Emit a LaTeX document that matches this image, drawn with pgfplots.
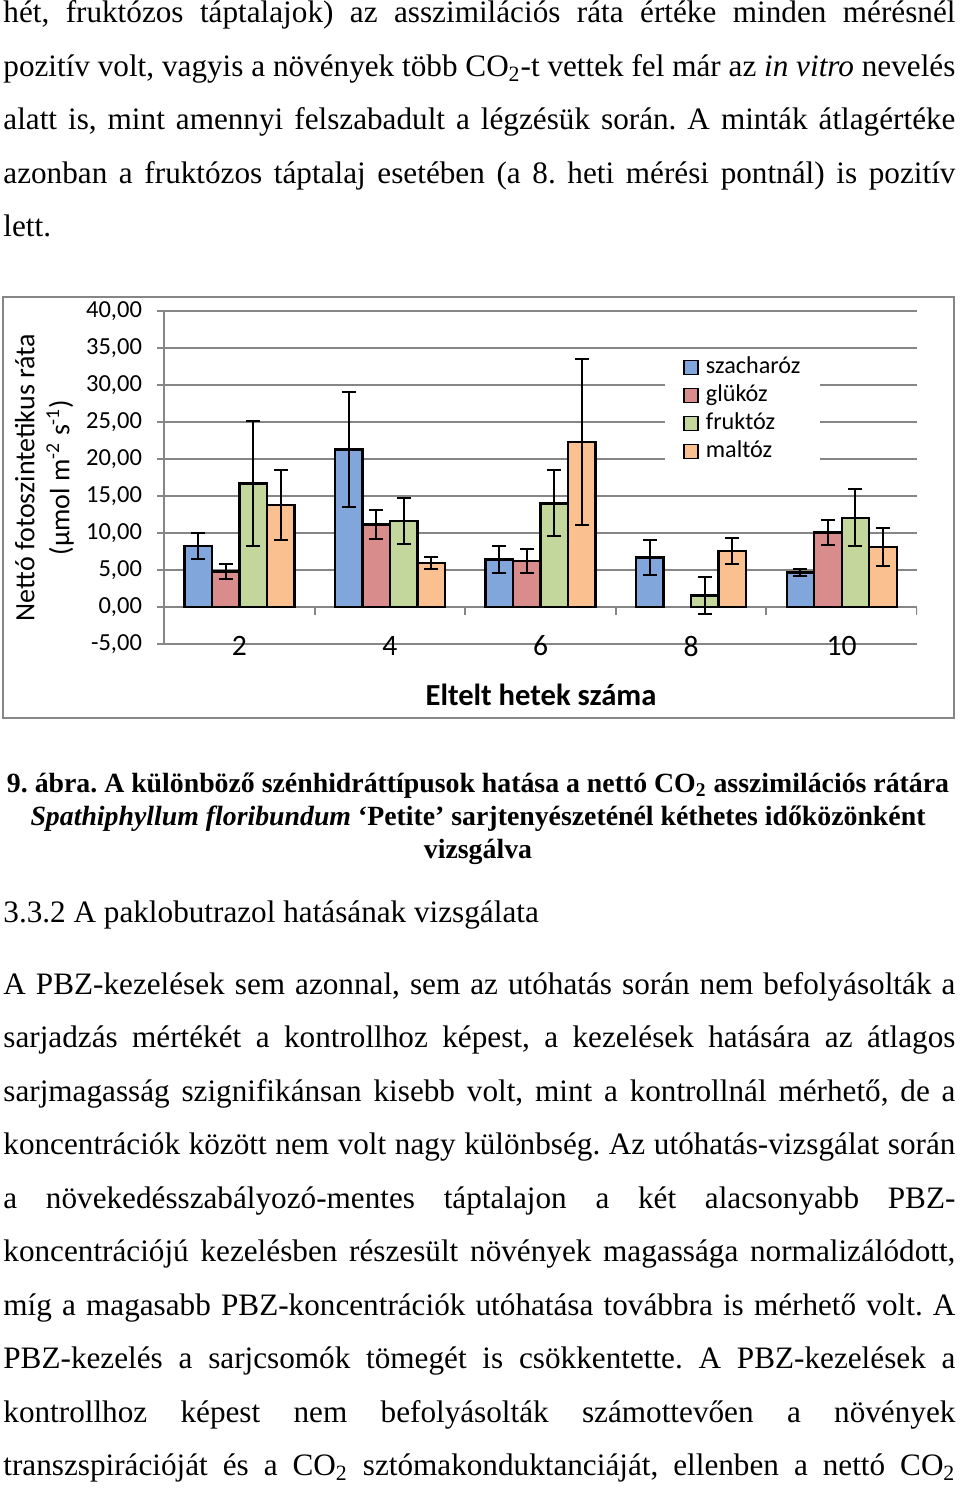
\documentclass[border=0pt]{standalone}
\usepackage{fontspec}
\setmainfont{Liberation Serif}
\newfontfamily\chartfont{Carlito}
\usepackage{pgfplots}
\pgfplotsset{compat=1.18}
\frenchspacing
\definecolor{gridgray}{RGB}{134,134,134}
\definecolor{cblue}{RGB}{128,166,220}
\definecolor{cred}{RGB}{217,140,140}
\definecolor{cgreen}{RGB}{195,214,155}
\definecolor{corange}{RGB}{250,192,144}
\newcommand\bodyfont{\fontsize{15.6}{18}\selectfont}
\newcommand\capfont{\fontsize{13.9}{16}\selectfont}
\newcommand\jline[2]{\node[anchor=base west, inner sep=0pt] at (1.5pt,-#1pt) {\bodyfont\makebox[476pt][s]{#2}};}
\newcommand\lline[2]{\node[anchor=base west, inner sep=0pt] at (1.5pt,-#1pt) {\bodyfont #2};}
\newcommand\capline[2]{\node[anchor=base, inner sep=0pt] at (239pt,-#1pt) {\capfont\bfseries #2};}
\begin{document}
\begin{tikzpicture}
\path[use as bounding box] (0,0) rectangle (480pt,-745.5pt);
% first paragraph
\jline{11.5}{hét, fruktózos táptalajok) az asszimilációs ráta értéke minden mérésnél}
\jline{38.25}{pozitív volt, vagyis a növények több CO\textsubscript{2}-t vettek fel már az \textit{in vitro} nevelés}
\jline{65}{alatt is, mint amennyi felszabadult a légzésük során. A minták átlagértéke}
\jline{91.75}{azonban a fruktózos táptalaj esetében (a 8. heti mérési pontnál) is pozitív}
\lline{118.5}{lett.}
% chart frame
\draw[gridgray, line width=0.75pt] (1.5pt,-148.5pt) rectangle (477pt,-359pt);
\begin{axis}[
  at={(82pt,-322pt)}, anchor=south west,
  scale only axis, width=376.5pt, height=166.5pt,
  xmin=1, xmax=11, ymin=-5, ymax=40, enlargelimits=false,
  ybar=0pt, bar width=13.75pt,
  axis lines*=left,
  x axis line style={draw=none},
  y axis line style={-, draw=gridgray, line width=1pt},
  ytick={-5,0,5,10,15,20,25,30,35,40},
  xtick={2,4,6,8,10},
  tick align=outside, major tick length=3.5pt,
  xtick style={draw=none},
  ytick style={draw=gridgray, line width=1pt},
  ymajorgrids, grid style={draw=gridgray, line width=1pt},
  yticklabel style={font=\chartfont\fontsize{12.25}{14}\selectfont, xshift=-4pt,
    /pgf/number format/fixed, /pgf/number format/fixed zerofill,
    /pgf/number format/precision=2, /pgf/number format/use comma,
    /pgf/number format/assume math mode=true},
  xticklabel style={font=\chartfont\fontsize{14.8}{16}\selectfont, anchor=center, yshift=2.5pt,
    /pgf/number format/assume math mode=true},
  ylabel={Nettó fotoszintetikus ráta\\(µmol m\textsuperscript{-2} s\textsuperscript{-1})},
  ylabel style={at={(axis description cs:-0.1587,0.5)}, anchor=center, align=center,
    font=\chartfont\fontsize{14}{17.5}\selectfont},
  xlabel={Eltelt hetek száma},
  xlabel style={at={(axis description cs:0.5007,-0.153)}, anchor=center,
    font=\chartfont\bfseries\fontsize{15.3}{18}\selectfont},
  legend cell align=left,
  legend style={at={(axis description cs:0.6653,0.880)}, anchor=north west,
    fill=white, draw=none, inner xsep=9pt, inner ysep=1pt, row sep=0pt,
    font=\chartfont\fontsize{12.1}{14}\selectfont,
    nodes={inner sep=1pt, text height=9pt, text depth=3pt},
    /tikz/every odd column/.append style={column sep=2.5pt}},
  legend image code/.code={\draw[#1, line width=0.75pt] (0pt,-3.5pt) rectangle (7pt,3.5pt);},
  every axis plot/.append style={draw=black, line width=1.2pt,
    /pgfplots/error bars/y dir=both, /pgfplots/error bars/y explicit,
    /pgfplots/error bars/error bar style={black, line width=1pt},
    /pgfplots/error bars/error mark options={rotate=90, black, mark size=3.5pt, line width=1pt}},
]
\addplot[fill=cblue] coordinates {(2,8.25) +- (0,1.75) (4,21.3) +- (0,7.75) (6,6.4) +- (0,1.8) (8,6.7) +- (0,2.35) (10,4.65) +- (0,0.45)};
\addplot[fill=cred] coordinates {(2,4.8) +- (0,0.95) (4,11.15) +- (0,2.0) (6,6.2) +- (0,1.6) (10,10.05) +- (0,1.65)};
\addplot[fill=cgreen] coordinates {(2,16.7) +- (0,8.45) (4,11.6) +- (0,3.15) (6,14.0) +- (0,4.45) (8,1.58) +- (0,2.5) (10,12.05) +- (0,3.85)};
\addplot[fill=corange] coordinates {(2,13.8) +- (0,4.7) (4,5.95) +- (0,0.85) (6,22.3) +- (0,11.2) (8,7.58) +- (0,1.8) (10,8.12) +- (0,2.6)};
\legend{szacharóz, glükóz, fruktóz, maltóz}
\draw[gridgray, line width=1pt] (axis cs:3,0) -- ([yshift=-4pt]axis cs:3,0);
\draw[gridgray, line width=1pt] (axis cs:5,0) -- ([yshift=-4pt]axis cs:5,0);
\draw[gridgray, line width=1pt] (axis cs:7,0) -- ([yshift=-4pt]axis cs:7,0);
\draw[gridgray, line width=1pt] (axis cs:9,0) -- ([yshift=-4pt]axis cs:9,0);
\draw[gridgray, line width=1pt] (axis cs:11,0) -- ([yshift=-4pt]axis cs:11,0);
\end{axis}
% caption
\capline{396}{9. ábra. A különböző szénhidráttípusok hatása a nettó CO\textsubscript{2} asszimilációs rátára}
\capline{412.5}{\textit{Spathiphyllum floribundum} ‘Petite’ sarjtenyészeténél kéthetes időközönként}
\capline{429}{vizsgálva}
\lline{461}{3.3.2 A paklobutrazol hatásának vizsgálata}
% second paragraph
\jline{497}{A PBZ-kezelések sem azonnal, sem az utóhatás során nem befolyásolták a}
\jline{523.75}{sarjadzás mértékét a kontrollhoz képest, a kezelések hatására az átlagos}
\jline{550.5}{sarjmagasság szignifikánsan kisebb volt, mint a kontrollnál mérhető, de a}
\jline{577.25}{koncentrációk között nem volt nagy különbség. Az utóhatás-vizsgálat során}
\jline{604}{a növekedésszabályozó-mentes táptalajon a két alacsonyabb PBZ-}
\jline{630.75}{koncentrációjú kezelésben részesült növények magassága normalizálódott,}
\jline{657.5}{míg a magasabb PBZ-koncentrációk utóhatása továbbra is mérhető volt. A}
\jline{684.25}{PBZ-kezelés a sarjcsomók tömegét is csökkentette. A PBZ-kezelések a}
\jline{711}{kontrollhoz képest nem befolyásolták számottevően a növények}
\jline{737.75}{transzspirációját és a CO\textsubscript{2} sztómakonduktanciáját, ellenben a nettó CO\textsubscript{2}}
\end{tikzpicture}
\end{document}
